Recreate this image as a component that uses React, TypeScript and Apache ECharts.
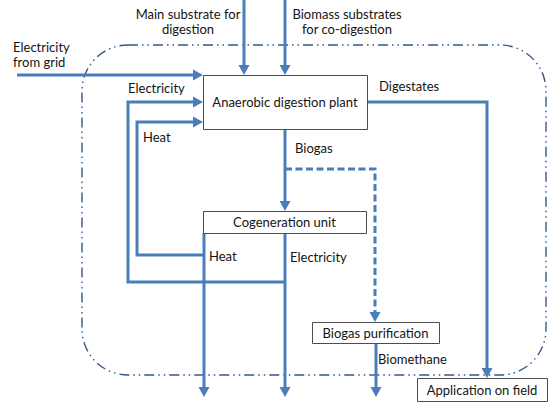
import React, { useEffect, useRef } from "react";
import * as echarts from "echarts";

// ---- Diagram content ----
const boxLabels = [
  "Anaerobic digestion plant",
  "Cogeneration unit",
  "Biogas purification",
  "Application on field",
];
// [x, y, w, h] per box, same order as boxLabels
const boxRects = [
  [203, 75, 164, 54],
  [203, 211, 163, 22],
  [312, 322, 127, 21],
  [417, 378, 130, 23],
];

const flowLabels = [
  ["Main substrate for", "digestion"],
  ["Biomass substrates", "for co-digestion"],
  ["Electricity", "from grid"],
  ["Electricity"],
  ["Heat"],
  ["Digestates"],
  ["Biogas"],
  ["Heat"],
  ["Electricity"],
  ["Biomethane"],
];
// [x, y, align] for each flow label
const flowLabelPos: [number, number, string][] = [
  [188, 14, "center"],
  [347, 14, "center"],
  [13, 47, "left"],
  [128, 88, "left"],
  [143, 137, "left"],
  [379, 86, "left"],
  [295, 148, "left"],
  [209, 256, "left"],
  [290, 257, "left"],
  [378, 359, "left"],
];

// solid flows (polyline points, arrow at last point)
const solidFlows: number[][][] = [
  [[244, 0], [244, 75]],
  [[285, 0], [285, 75]],
  [[17, 75], [203, 75]],
  [[285, 282], [128, 282], [128, 102], [203, 102]],
  [[204, 255], [137, 255], [137, 122], [203, 122]],
  [[285, 129], [285, 211]],
  [[367, 102], [487, 102], [487, 378]],
  [[204, 233], [204, 397]],
  [[285, 233], [285, 397]],
  [[376, 343], [376, 397]],
];
const dashedFlows: number[][][] = [
  [[285, 169], [375, 169], [375, 322]],
];

const BLUE = "#4a7ebb";
const FRAME = "#34588a";
const TEXT = "#141414";
const FONT = "Lato";
const FS = 13;

function flowElements(pts: number[][], dashed: boolean) {
  const n = pts.length;
  const [x2, y2] = pts[n - 1];
  const [x1, y1] = pts[n - 2];
  const dx = x2 - x1;
  const dy = y2 - y1;
  const len = Math.hypot(dx, dy);
  const ux = dx / len;
  const uy = dy / len;
  const L = 10;
  const W = 5.5;
  const bx = x2 - ux * L;
  const by = y2 - uy * L;
  const linePts = pts.slice(0, n - 1).concat([[bx + ux * 1, by + uy * 1]]);
  const els: any[] = [
    {
      type: "polyline",
      shape: { points: linePts },
      style: {
        stroke: BLUE,
        lineWidth: 3,
        fill: null,
        lineDash: dashed ? [7, 3.5] : null,
        lineJoin: "miter",
      },
      z: 5,
    },
    {
      type: "polygon",
      shape: {
        points: [
          [x2, y2],
          [bx - uy * W, by + ux * W],
          [bx + uy * W, by - ux * W],
        ],
      },
      style: { fill: BLUE, stroke: null },
      z: 6,
    },
  ];
  return els;
}

export default function App() {
  const ref = useRef<HTMLDivElement>(null);
  useEffect(() => {
    if (!ref.current) return;
    const chart = echarts.init(ref.current, null, { renderer: "svg" });
    const elements: any[] = [];
    // frame
    elements.push({
      type: "rect",
      shape: { x: 82, y: 45, width: 464, height: 330, r: 46 },
      style: {
        fill: null,
        stroke: FRAME,
        lineWidth: 1.4,
        lineDash: [10, 4, 1.5, 4, 1.5, 4],
      },
      z: 1,
    });
    solidFlows.forEach((f) => elements.push(...flowElements(f, false)));
    dashedFlows.forEach((f) => elements.push(...flowElements(f, true)));
    boxLabels.forEach((label, i) => {
      const [x, y, w, h] = boxRects[i];
      elements.push({
        type: "rect",
        shape: { x: x + 0.5, y: y + 0.5, width: w, height: h },
        style: { fill: "#ffffff", stroke: "#4d4d4d", lineWidth: 1 },
        z: 8,
      });
      elements.push({
        type: "text",
        x: x + w / 2,
        y: y + h / 2,
        style: {
          text: label,
          fill: TEXT,
          font: `${FS}px ${FONT}`,
          align: "center",
          verticalAlign: "middle",
        },
        z: 9,
      });
    });
    flowLabels.forEach((lines, i) => {
      const [x, y, align] = flowLabelPos[i];
      lines.forEach((t, j) => {
        elements.push({
          type: "text",
          x,
          y: y + j * 15,
          style: {
            text: t,
            fill: TEXT,
            font: `${FS}px ${FONT}`,
            align,
            verticalAlign: "middle",
          },
          z: 9,
        });
      });
    });
    chart.setOption({
      animation: false,
      backgroundColor: "#ffffff",
      graphic: { elements },
    });
    return () => chart.dispose();
  }, []);
  return (
    <div
      ref={ref}
      style={{ width: 548, height: 402, position: "absolute", left: 0, top: 0 }}
    />
  );
}
